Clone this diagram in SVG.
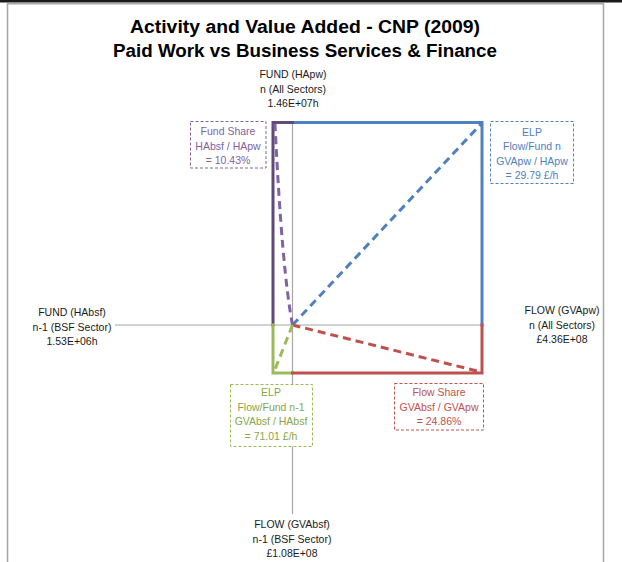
<svg xmlns="http://www.w3.org/2000/svg" width="622" height="562" viewBox="0 0 622 562">
<style>
text{font-family:"Liberation Sans",Arial,sans-serif;font-size:10.5px;text-anchor:middle}
.title{font-size:18px;font-weight:bold;fill:#000}
.lbl{fill:#1a1a1a}
.axis{stroke:#a6a6a6;stroke-width:1.2;fill:none}
.solid{stroke-width:3;fill:none;stroke-linecap:square}
.dash{stroke-width:3;fill:none;stroke-dasharray:8 5}
.box{fill:#fff;stroke-width:1;stroke-dasharray:3 2}
</style>
<rect x="0" y="0" width="622" height="562" fill="#fff"/>
<rect x="0" y="0" width="622" height="2.5" fill="#1a1a1a"/>
<path d="M7.5,570 V3.8 H603.5 V570" fill="none" stroke="#a8a8a8" stroke-width="1.6"/>
<g id="title">
<text class="title" x="305" y="33" textLength="350" lengthAdjust="spacingAndGlyphs">Activity and Value Added - CNP (2009)</text>
<text class="title" x="305" y="57" textLength="384" lengthAdjust="spacingAndGlyphs">Paid Work vs Business Services &amp; Finance</text>
</g>
<g id="connectors">
<line class="axis" x1="292.5" y1="122" x2="292.5" y2="514"/>
<line class="axis" x1="115" y1="325" x2="482" y2="325"/>
<path class="solid" stroke="#4f81bd" d="M292.5,122.5 H482 V325"/>
<path class="solid" stroke="#604a7b" d="M292.5,122.5 H273 V325"/>
<path class="solid" stroke="#9bbb59" d="M273,325 V373 H292.5"/>
<path class="solid" stroke="#c0504d" d="M292.5,373 H482 V325"/>
<line class="dash" stroke="#4f81bd" x1="292.5" y1="325" x2="481" y2="124"/>
<path class="dash" stroke="#8064a2" d="M292.5,325 Q282,270 275,124"/>
<line class="dash" stroke="#c0504d" x1="292.5" y1="325" x2="481" y2="372"/>
<line class="dash" stroke="#9bbb59" x1="292.5" y1="325" x2="274" y2="372"/>
</g>
<g id="fund-n">
<text class="lbl" x="293" y="78">FUND (HApw)</text>
<text class="lbl" x="293" y="92.5">n (All Sectors)</text>
<text class="lbl" x="293" y="107">1.46E+07h</text>
</g>
<g id="fund-n1">
<text class="lbl" x="72" y="316">FUND (HAbsf)</text>
<text class="lbl" x="72" y="330.5">n-1 (BSF Sector)</text>
<text class="lbl" x="72" y="345">1.53E+06h</text>
</g>
<g id="flow-n">
<text class="lbl" x="562" y="314">FLOW (GVApw)</text>
<text class="lbl" x="562" y="328.5">n (All Sectors)</text>
<text class="lbl" x="562" y="343">£4.36E+08</text>
</g>
<g id="flow-n1">
<text class="lbl" x="292" y="528">FLOW (GVAbsf)</text>
<text class="lbl" x="292" y="543">n-1 (BSF Sector)</text>
<text class="lbl" x="292" y="557">£1.08E+08</text>
</g>
<g id="fund-share">
<rect class="box" x="190.5" y="121.5" width="75.5" height="46.5" stroke="#8064a2"/>
<text x="228" y="135" fill="#8064a2">Fund Share</text>
<text x="228" y="149.5" fill="#8064a2">HAbsf / HApw</text>
<text x="228" y="163.5" fill="#8064a2">= 10.43%</text>
</g>
<g id="elp-n">
<rect class="box" x="490.5" y="121.5" width="83" height="62" stroke="#4f81bd"/>
<text x="532" y="135.5" fill="#4f81bd">ELP</text>
<text x="532" y="150" fill="#4f81bd">Flow/Fund n</text>
<text x="532" y="164.5" fill="#4f81bd">GVApw / HApw</text>
<text x="532" y="179" fill="#4f81bd">= 29.79 £/h</text>
</g>
<g id="elp-n1">
<rect class="box" x="230.5" y="384.5" width="82" height="62" stroke="#9bbb59"/>
<text x="271" y="395.5" fill="#86a64a">ELP</text>
<text x="271" y="410.5" fill="#86a64a">Flow/Fund n-1</text>
<text x="271" y="425" fill="#86a64a">GVAbsf / HAbsf</text>
<text x="271" y="439.5" fill="#86a64a">= 71.01 £/h</text>
</g>
<g id="flow-share">
<rect class="box" x="394.5" y="383.5" width="89" height="46.5" stroke="#c0504d"/>
<text x="439" y="396" fill="#c0504d">Flow Share</text>
<text x="439" y="410.5" fill="#c0504d">GVAbsf / GVApw</text>
<text x="439" y="425" fill="#c0504d">= 24.86%</text>
</g>
</svg>
